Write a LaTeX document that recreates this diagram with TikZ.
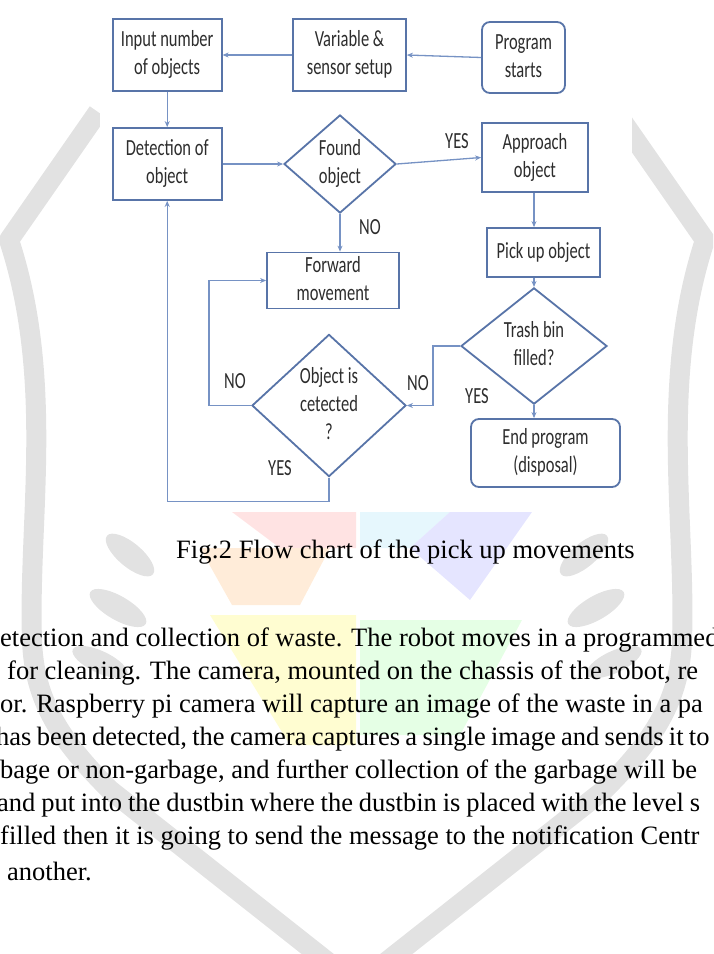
\documentclass[tikz,border=0pt]{standalone}
\usepackage{graphicx}
\usepackage{fontspec}
\setmainfont{Liberation Serif}
\newfontfamily\fcfont{Carlito}
\usetikzlibrary{shapes.geometric,arrows.meta}
\definecolor{boxc}{RGB}{88,116,168}
\definecolor{linec}{RGB}{118,146,196}
\definecolor{txtc}{RGB}{45,45,45}
\definecolor{wmgray}{RGB}{226,226,226}
\newcommand{\fctext}[1]{\scalebox{1}[1.4]{\fcfont\fontsize{16.5}{20}\selectfont\begin{tabular}{@{}c@{}}#1\end{tabular}}}
\begin{document}
\begin{tikzpicture}[x=1pt,y=-1pt,
  box/.style={draw=boxc,line width=1.8pt,fill=white,inner sep=0pt,text=txtc},
  rbox/.style={box,rounded corners=8pt},
  dia/.style={box,diamond},
  conn/.style={draw=linec,line width=1.3pt,-{Stealth[length=6pt,width=5pt]}},
  lab/.style={text=txtc,inner sep=0pt},
  para/.style={anchor=west,inner sep=0pt,font=\fontsize{26.5}{30}\selectfont},
  leaf/.style={fill=wmgray}
]
\useasboundingbox (0,0) rectangle (713,954);
\clip (0,0) rectangle (713,954);
% ---------- watermark: pinwheel ----------
\fill[red!11] (232,512) -- (356,512) -- (356,548) -- (280,548) -- cycle;
\fill[orange!15] (200,548) -- (330,548) -- (300,605) -- (232,605) -- cycle;
\fill[yellow!18] (210,615) -- (356,615) -- (356,745) -- (290,745) -- cycle;
\fill[cyan!10] (360,512) -- (450,512) -- (410,548) -- (360,548) -- cycle;
\fill[blue!10] (450,512) -- (532,512) -- (470,600) -- (410,548) -- cycle;
\fill[green!10] (360,620) -- (522,620) -- (460,735) -- (360,735) -- cycle;
% ---------- watermark: shield ----------
\draw[wmgray,line width=20pt,line join=round]
  (98,112) -- (9,240) .. controls (55,380) and (28,520) .. (32,640)
  .. controls (34,700) and (60,740) .. (110,790) -- (357,985);
\draw[wmgray,line width=20pt,line join=round]
  (616,112) -- (705,240) .. controls (659,380) and (686,520) .. (682,640)
  .. controls (680,700) and (654,740) .. (604,790) -- (357,985);
% ---------- watermark: wheat ----------
\fill[leaf] (130,555) ellipse [x radius=30pt,y radius=12pt,rotate=-40];
\fill[leaf] (118,608) ellipse [x radius=32pt,y radius=12pt,rotate=-30];
\fill[leaf] (100,662) ellipse [x radius=30pt,y radius=11pt,rotate=-25];
\fill[leaf] (584,555) ellipse [x radius=30pt,y radius=12pt,rotate=40];
\fill[leaf] (596,608) ellipse [x radius=32pt,y radius=12pt,rotate=30];
\fill[leaf] (614,662) ellipse [x radius=30pt,y radius=11pt,rotate=25];
% ---------- white figure area ----------
\fill[white] (100,0) rectangle (632,510);
% ---------- flowchart nodes ----------
\node[box,minimum width=109pt,minimum height=71.5pt] (inp) at (167.2,55) {\fctext{Input number\\of objects}};
\node[box,minimum width=113pt,minimum height=71.5pt] (var) at (349.5,55) {\fctext{Variable \&\\sensor setup}};
\node[rbox,minimum width=83pt,minimum height=71pt] (prog) at (523.5,57.5) {\fctext{Program\\starts}};
\node[box,minimum width=109pt,minimum height=72pt] (det) at (167.2,164) {\fctext{Detection of\\object}};
\node[dia,minimum width=112pt,minimum height=80pt] (found) at (340,164) {\fctext{Found\\object}};
\node[box,minimum width=106pt,minimum height=69pt] (appr) at (535,157.5) {\fctext{Approach\\object}};
\node[box,minimum width=132pt,minimum height=55.5pt] (fwd) at (333,280.5) {\fctext{Forward\\movement}};
\node[box,minimum width=113pt,minimum height=49pt] (pick) at (543.5,252.5) {\fctext{Pick up object}};
\node[dia,minimum width=146pt,minimum height=88pt] (trash) at (534,346) {\fctext{Trash bin\\filled?}};
\node[dia,minimum width=154pt,minimum height=119pt] (obj) at (329,405.5) {\fctext{Object is\\cetected\\?}};
\node[rbox,minimum width=149pt,minimum height=68pt] (end) at (545.5,453) {\fctext{End program\\(disposal)}};
% ---------- connectors ----------
\draw[conn] (prog.west) -- (var.east);
\draw[conn] (var.west) -- (inp.east);
\draw[conn] (inp.south) -- (det.north);
\draw[conn] (det.east) -- (found.west);
\draw[conn] (found.east) -- (appr.west);
\draw[conn] (found.south) -- (found.south |- fwd.north);
\draw[conn] (trash.north |- appr.south) -- (trash.north |- pick.north);
\draw[conn] (trash.north |- pick.south) -- (trash.north);
\draw[conn] (trash.south) -- (trash.south |- end.north);
\draw[conn] (trash.west) -- ++(-27,0) |- (obj.east);
\draw[conn] (obj.west) -- ++(-42,0) |- (fwd.west);
\draw[conn] (obj.south) -- ++(0,24) -| (det.south);
% ---------- labels ----------
\node[lab] (l1) at (457,143) {\fctext{YES}};
\node[lab] (l2) at (370,229) {\fctext{NO}};
\node[lab] (l3) at (477,398) {\fctext{YES}};
\node[lab] (l4) at (418,385) {\fctext{NO}};
\node[lab] (l5) at (235,383) {\fctext{NO}};
\node[lab] (l6) at (280,470) {\fctext{YES}};
% ---------- caption and text ----------
\node[para] (cap) at (176,552) {Fig:2 Flow chart of the pick up movements};
\node[para] (t1) at (0,640) {etection and collection of waste. The robot moves in a programmed};
\node[para] (t2) at (7,673) {for cleaning. The camera, mounted on the chassis of the robot, re};
\node[para] (t3) at (0,706) {or. Raspberry pi camera will capture an image of the waste in a pa};
\node[para] (t4) at (-4,739) {\spaceskip=0.2em has been detected, the camera captures a single image and sends it to};
\node[para] (t5) at (0,772) {bage or non-garbage, and further collection of the garbage will be};
\node[para] (t6) at (-3,805) {\spaceskip=0.22em and put into the dustbin where the dustbin is placed with the level s};
\node[para] (t7) at (0,838) {filled then it is going to send the message to the notification Centr};
\node[para] (t8) at (7,871) {another.};
\end{tikzpicture}
\end{document}
